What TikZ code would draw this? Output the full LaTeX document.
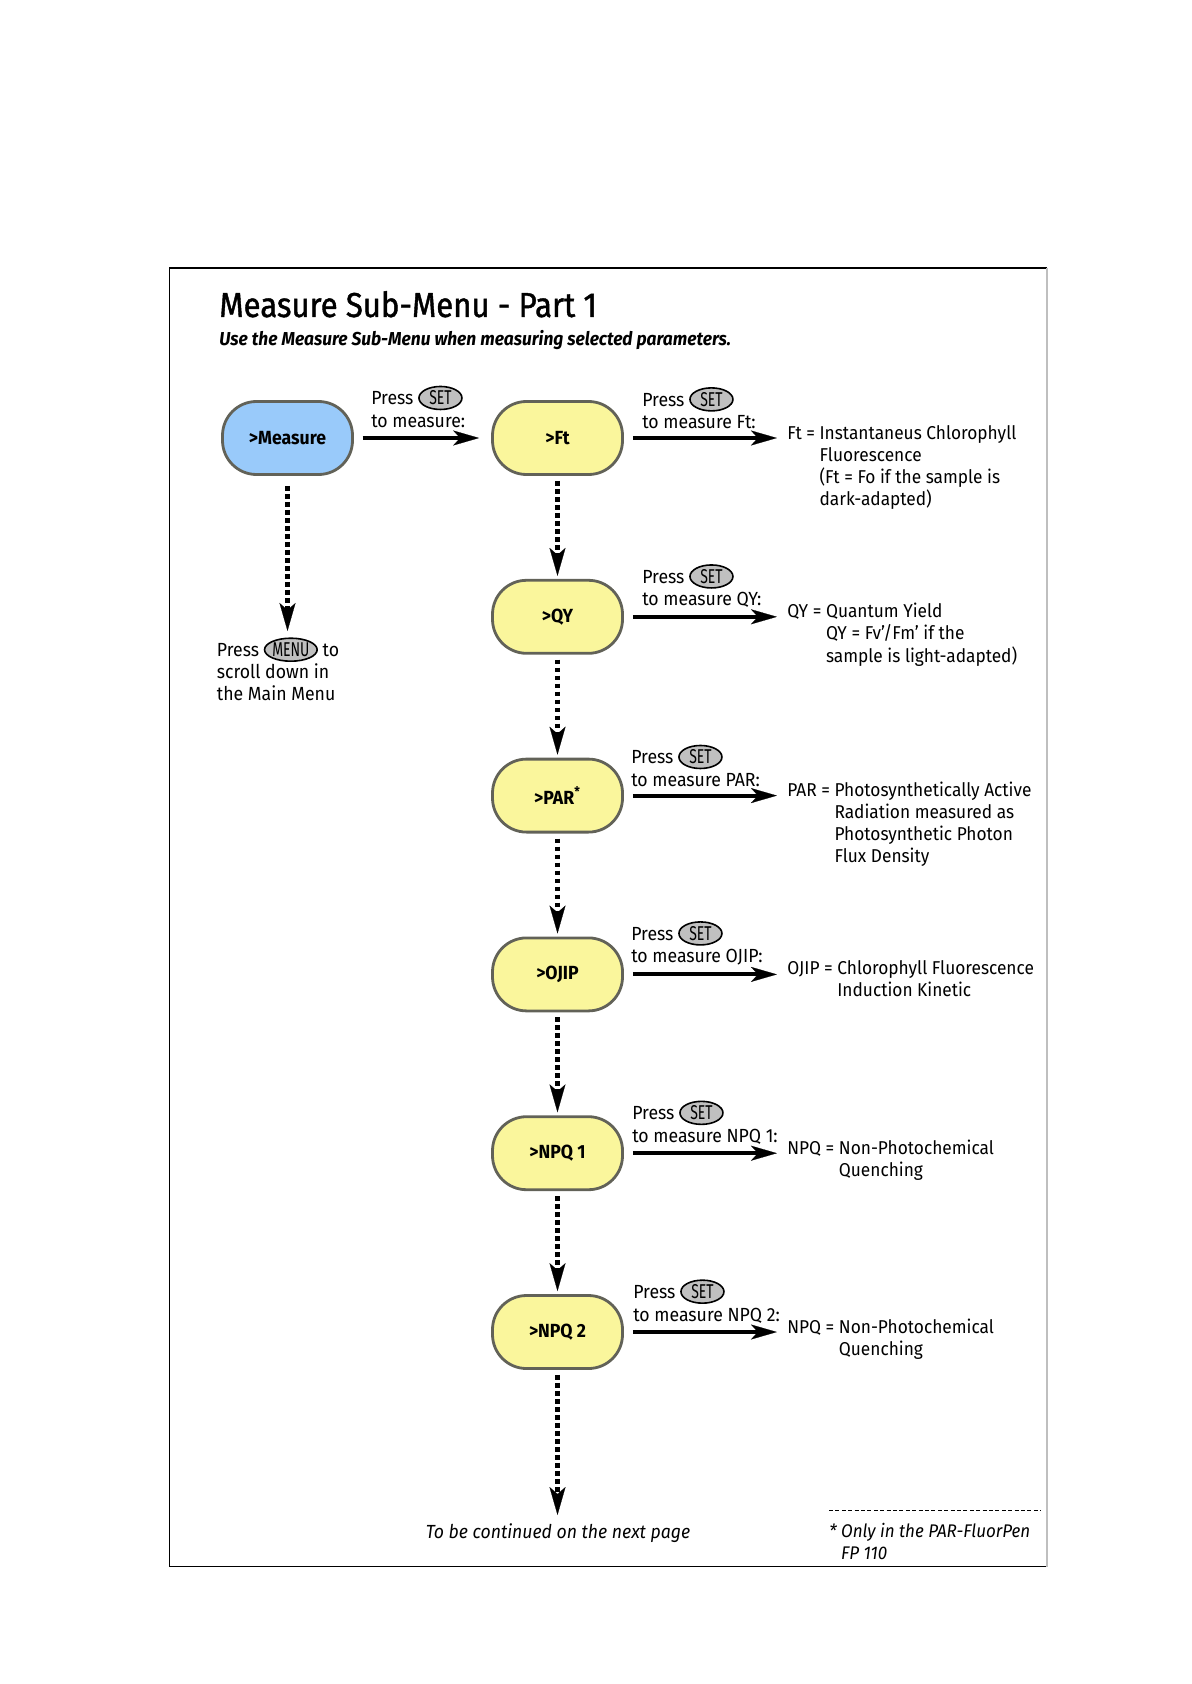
\documentclass[tikz,border=0pt]{standalone}
\usepackage{fontspec}
\setmainfont{Fira Sans}[FakeStretch=0.93]
\newfontfamily\keyfont{Fira Sans}[FakeStretch=0.7]
\newfontfamily\titlefont{Fira Sans}[FakeStretch=0.9, FakeBold=1.2]
\usetikzlibrary{
    arrows.meta,
    shapes.geometric,
    calc,
    positioning
}
\definecolor{measblue}{RGB}{153,202,250}
\definecolor{subyellow}{RGB}{250,246,156}
\definecolor{boxline}{RGB}{98,98,88}
\definecolor{keygrey}{RGB}{192,192,192}
\tikzset{
    menubox/.style={draw=boxline, line width=1.4pt, rounded corners=17pt, minimum width=65pt, minimum height=36.5pt, font=\fontsize{9.5pt}{11pt}\selectfont\bfseries},
    measbox/.style={menubox, fill=measblue},
    subbox/.style={menubox, fill=subyellow},
    keyoval/.style={ellipse, draw=black, line width=0.8pt, fill=keygrey, inner sep=0pt, minimum width=21.5pt, minimum height=11.5pt, font=\fontsize{10pt}{10pt}\keyfont},
    presslbl/.style={align=left, inner sep=0pt, font=\fontsize{9.5pt}{11.25pt}\selectfont},
    descr/.style={inner sep=0pt, anchor=base west, font=\fontsize{9.3pt}{11pt}\selectfont},
    goarrow/.style={line width=2pt, -{Stealth[length=13pt, width=7.5pt, inset=3.5pt, line width=0.1pt]}},
    scrollarrow/.style={line width=2.3pt, dash pattern=on 2.3pt off 1.7pt, -{Stealth[length=14pt, width=8pt, inset=3.5pt, line width=0.1pt]}}
}
\newcommand{\keybtn}[1]{\tikz[baseline=(k.base)]\node[keyoval](k){#1};}

\begin{document}
\begin{tikzpicture}[x=0.5pt, y=-0.5pt]
    \useasboundingbox (0,0) rectangle (1191,1684);
    % frame
    \draw[line width=0.75pt] (1047,268) -- (169.5,268) -- (169.5,1566.5) -- (1047,1566.5);
    \draw[black!25, line width=1pt] (1047,268) -- (1047,1566.5);

    \node[anchor=base west, inner sep=0pt, font=\fontsize{17.3pt}{20pt}\titlefont] (title) at (219,317) {Measure Sub-Menu - Part 1};
    \node[anchor=base west, inner sep=0pt, font=\fontsize{9.35pt}{11pt}\selectfont\bfseries\itshape] (subtitle) at (219,346) {Use the Measure Sub-Menu when measuring selected parameters.};

    % menu boxes
    \node[measbox] (measure) at (287.5,438) {>Measure};
    \foreach \nm/\txt [count=\i from 0] in {ft/>Ft, qy/>QY, par/>PAR\textsuperscript{*}, ojip/>OJIP, npqa/>NPQ 1, npqb/>NPQ 2} {
        \node[subbox] (\nm) at (557.5,438+178.8*\i) {\txt};
    }

    % SET arrows
    \draw[goarrow, shorten <=4.4pt, shorten >=6pt] (measure) -- (ft);
    \node[presslbl, above right=5pt and 8.5pt of measure.east] (measure-press) {Press \keybtn{SET}\\to measure:};
    \foreach \nm/\what/\gap in {ft/Ft/9pt, qy/QY/9pt, par/PAR/3.5pt, ojip/OJIP/3.5pt, npqa/NPQ 1/4pt, npqb/NPQ 2/4.5pt} {
        \coordinate (\nm-out) at ($(\nm.east)+(153,0)$);
        \draw[goarrow, shorten <=4.5pt] (\nm) -- (\nm-out);
        \node[presslbl, above right=4.3pt and \gap of \nm.east] (\nm-press) {Press \keybtn{SET}\\to measure \what:};
    }

    % what is measured
    \node[descr] (ft-desc) at ($(ft-out)+(10,1)$) {Ft = \begin{tabular}[t]{@{}l@{}}Instantaneus Chlorophyll\\Fluorescence\\(Ft = Fo if the sample is\\dark-adapted)\end{tabular}};
    \node[descr] (qy-desc) at ($(qy-out)+(10,1)$) {QY = \begin{tabular}[t]{@{}l@{}}Quantum Yield\\QY = Fv'/Fm' if the\\sample is light-adapted)\end{tabular}};
    \node[descr] (par-desc) at ($(par-out)+(10,1)$) {PAR = \begin{tabular}[t]{@{}l@{}}Photosynthetically Active\\Radiation measured as\\Photosynthetic Photon\\Flux Density\end{tabular}};
    \node[descr] (ojip-desc) at ($(ojip-out)+(10,0)$) {OJIP = \begin{tabular}[t]{@{}l@{}}Chlorophyll Fluorescence\\Induction Kinetic\end{tabular}};
    \node[descr] (npqa-desc) at ($(npqa-out)+(10,1)$) {NPQ = \begin{tabular}[t]{@{}l@{}}Non-Photochemical\\Quenching\end{tabular}};
    \node[descr] (npqb-desc) at ($(npqb-out)+(10,1)$) {NPQ = \begin{tabular}[t]{@{}l@{}}Non-Photochemical\\Quenching\end{tabular}};

    % MENU scrolling
    \coordinate (menu-tip) at (287.5,631);
    \draw[scrollarrow, shorten <=5pt] (measure) -- (menu-tip);
    \node[presslbl, anchor=north west, font=\fontsize{9.5pt}{11pt}\selectfont] (menu-hint) at (216.5,637) {Press \keybtn{MENU} to\\scroll down in\\the Main Menu};
    \foreach \a/\b in {ft/qy, qy/par, par/ojip, ojip/npqa, npqa/npqb} {
        \draw[scrollarrow, shorten <=2.5pt, shorten >=1.5pt] (\a) -- (\b);
    }
    \coordinate (cont-tip) at (557.5,1515);
    \draw[scrollarrow, shorten <=2.5pt] (npqb) -- (cont-tip);
    \node[anchor=base, inner sep=0pt, font=\fontsize{9.5pt}{11pt}\selectfont\itshape] (cont) at (558,1538) {To be continued on the next page};

    % footnote
    \draw[line width=0.5pt, dash pattern=on 2pt off 1.2pt] (829,1510) -- (1041,1510);
    \node[presslbl, anchor=north west, font=\fontsize{9.15pt}{10.75pt}\selectfont\itshape] (foot) at (829,1523) {* Only in the PAR-FluorPen\\\hphantom{* }FP 110};
\end{tikzpicture}
\end{document}
